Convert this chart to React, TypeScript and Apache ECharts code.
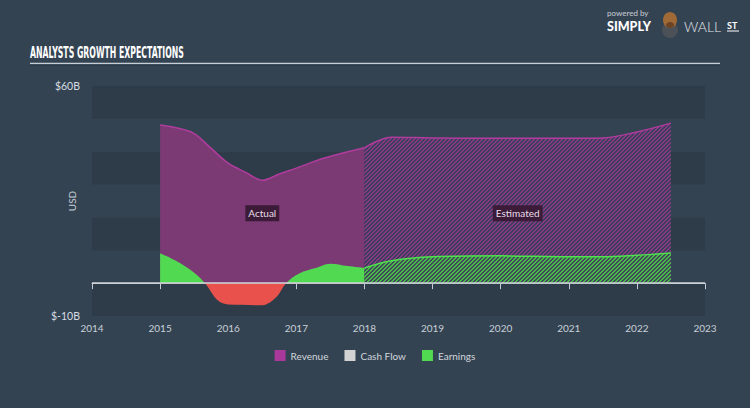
import React, { useEffect, useRef } from "react";
import * as echarts from "echarts";

// ---- data (USD billions) ----
const xTickMin = 2014;
const xTickMax = 2023;
const yMin = -10;
const yMax = 60;
const yStep = 10;

const revenueActual: [number, number][] = [
  [2015, 48.1], [2015.25, 47.2], [2015.5, 45.5], [2015.75, 41], [2016, 36.5],
  [2016.25, 33.8], [2016.5, 31.3], [2016.75, 33.2], [2017, 35], [2017.4, 38], [2018, 41.2],
];
const revenueEstimate: [number, number][] = [
  [2018, 41.2], [2018.4, 44.4], [2019, 44.2], [2020, 44.1], [2021, 44.1],
  [2021.5, 44.2], [2022, 46], [2022.5, 48.7],
];
const earningsActual: [number, number][] = [
  [2015, 9.1], [2015.25, 6.6], [2015.5, 3.2], [2015.66, 0], [2015.85, -5.3], [2016, -6.5],
  [2016.5, -6.7], [2016.7, -4.4], [2016.85, 0], [2017.05, 3], [2017.27, 4.5],
  [2017.5, 5.9], [2017.75, 5.2], [2018, 4.6],
];
const earningsEstimate: [number, number][] = [
  [2018, 4.6], [2018.4, 6.8], [2019, 8], [2020, 8.3], [2021, 8], [2021.5, 8],
  [2022, 8.5], [2022.5, 9.2],
];
const cashFlow: [number, number][] = [];

const legendNames = ["Revenue", "Cash Flow", "Earnings"];
const annotations = [
  { label: "Actual", x: 2016.5, y: 21.3 },
  { label: "Estimated", x: 2020.25, y: 21.3 },
];
const titleText = "ANALYSTS GROWTH EXPECTATIONS";

function makePattern(stripe: string, gap: string) {
  const n = 4;
  const c = document.createElement("canvas");
  c.width = n;
  c.height = n;
  const ctx = c.getContext("2d")!;
  ctx.fillStyle = gap;
  ctx.fillRect(0, 0, n, n);
  ctx.fillStyle = stripe;
  for (let x = 0; x < n; x++)
    for (let y = 0; y < n; y++) if ((x + y) % n < 2) ctx.fillRect(x, y, 1, 1);
  return { image: c, repeat: "repeat", imageWidth: n, imageHeight: n } as any;
}

export default function App() {
  const ref = useRef<HTMLDivElement>(null);
  useEffect(() => {
    if (!ref.current) return;
    const chart = echarts.init(ref.current, undefined, { renderer: "svg" });
    const bg = "#344352";
    const font = "Lato, 'Open Sans', sans-serif";

    const mc = document.createElement("canvas").getContext("2d")!;
    mc.font = "bold 15px 'DejaVu Sans Condensed'";
    const tw = mc.measureText(titleText).width || 230;
    const titleScale = 154 / tw;

    const revColor = "#b03c9e";
    const greenColor = "#52d952";

    chart.setOption({
      animation: false,
      backgroundColor: bg,
      textStyle: { fontFamily: font },
      grid: { left: 92, right: 45, top: 86, bottom: 92 },
      legend: {
        data: [
          { name: legendNames[0], itemStyle: { color: "#a8389a" } },
          { name: legendNames[1], itemStyle: { color: "#d2d2d2" } },
          { name: legendNames[2], itemStyle: { color: greenColor } },
        ],
        top: 345,
        left: "center",
        icon: "rect",
        itemWidth: 11,
        itemHeight: 11,
        itemGap: 16,
        selectedMode: false,
        textStyle: { color: "#d0d6dc", fontSize: 10, fontFamily: font },
      },
      visualMap: {
        type: "piecewise",
        show: false,
        seriesIndex: 2,
        dimension: 1,
        pieces: [
          { gte: -1000, lt: 0, color: "#e9524c" },
          { gte: 0, lte: 1000, color: greenColor },
        ],
      },
      xAxis: {
        type: "value",
        min: xTickMin,
        max: xTickMax,
        interval: 1,
        axisLine: { show: true, lineStyle: { color: "#c3cad2", width: 1 } },
        axisTick: { show: true, length: 6, lineStyle: { color: "#c3cad2" } },
        axisLabel: {
          color: "#c8d0d8",
          fontSize: 10,
          margin: 7,
          formatter: (v: number) => String(v),
        },
        splitLine: { show: false },
      },
      yAxis: {
        type: "value",
        min: yMin,
        max: yMax,
        interval: yStep,
        name: "USD",
        nameLocation: "middle",
        nameGap: 15,
        nameMoveOverlap: false,
        nameTextStyle: { color: "#c8d0d8", fontSize: 10 },
        axisLine: { show: false },
        axisTick: { show: false },
        axisLabel: {
          color: "#d6dce2",
          fontSize: 10.5,
          margin: 12,
          formatter: (v: number) =>
            v === yMax ? `$${yMax}B` : v === yMin ? `$${yMin}B` : "",
        },
        splitLine: { show: false },
        splitArea: { show: true, areaStyle: { color: ["#2e3b48", bg] } },
      },
      series: [
        {
          name: "Revenue",
          type: "line",
          data: revenueActual,
          smooth: 0.35,
          symbol: "none",
          z: 2,
          lineStyle: { color: revColor, width: 1.5 },
          itemStyle: { color: revColor },
          areaStyle: { color: "#7b3a74", opacity: 1 },
          markPoint: {
            symbol: "rect",
            symbolSize: 1,
            silent: true,
            itemStyle: { color: "rgba(0,0,0,0)" },
            label: {
              show: true,
              position: "inside",
              formatter: "{b}",
              color: "#e8dee8",
              fontSize: 10,
              backgroundColor: "#3b1b38",
              padding: [3, 3, 3, 3],
            },
            data: annotations.map((a) => ({ name: a.label, coord: [a.x, a.y] })),
          },
        },
        {
          name: "Revenue",
          type: "line",
          data: revenueEstimate,
          smooth: 0.35,
          symbol: "none",
          z: 2,
          lineStyle: { color: revColor, width: 1.5 },
          itemStyle: { color: revColor },
          areaStyle: { color: makePattern("#853a84", "#3c3d5b"), opacity: 1 },
        },
        {
          name: "Earnings",
          type: "line",
          data: earningsActual,
          smooth: 0.35,
          symbol: "none",
          z: 3,
          lineStyle: { width: 0 },
          areaStyle: { opacity: 1 },
        },
        {
          name: "Earnings",
          type: "line",
          data: earningsEstimate,
          smooth: 0.35,
          symbol: "none",
          z: 3,
          lineStyle: { color: "#4fe04f", width: 1.5 },
          itemStyle: { color: greenColor },
          areaStyle: { color: makePattern("#4cb84c", "#3d4a58"), opacity: 1 },
          markLine: {
            silent: true,
            symbol: "none",
            label: { show: false },
            lineStyle: { color: "#cfd4d9", width: 1.5, type: "solid" },
            data: [{ yAxis: 0 }],
          },
        },
        {
          name: "Cash Flow",
          type: "line",
          data: cashFlow,
          symbol: "none",
          itemStyle: { color: "#d2d2d2" },
        },
      ],
      graphic: [
        {
          type: "text",
          x: 30,
          y: 53,
          scaleX: titleScale,
          style: {
            text: titleText,
            fill: "#ffffff",
            font: "bold 15px 'DejaVu Sans Condensed'",
            verticalAlign: "middle",
          },
        },
        {
          type: "line",
          shape: { x1: 30, y1: 63.5, x2: 720, y2: 63.5 },
          style: { stroke: "#c6ced6", lineWidth: 1.5 },
        },
        {
          type: "line",
          shape: { x1: 30, y1: 65, x2: 720, y2: 65 },
          style: { stroke: "#253240", lineWidth: 1 },
        },
        {
          type: "text",
          x: 607,
          y: 13,
          style: {
            text: "powered by",
            fill: "#c9ced4",
            font: "8px Lato",
            verticalAlign: "middle",
          },
        },
        {
          type: "text",
          x: 607,
          y: 26.5,
          style: {
            text: "SIMPLY",
            fill: "#ffffff",
            font: "900 12.5px Lato",
            verticalAlign: "middle",
          },
        },
        {
          type: "circle",
          shape: { cx: 670, cy: 30, r: 8 },
          style: { fill: "#4c5158" },
        },
        {
          type: "ellipse",
          shape: { cx: 670, cy: 20, rx: 7, ry: 8 },
          style: { fill: "#a06a36" },
        },
        {
          type: "ellipse",
          shape: { cx: 670, cy: 25, rx: 4, ry: 3 },
          style: { fill: "#6a4424" },
        },
        {
          type: "text",
          x: 684,
          y: 26.5,
          style: {
            text: "WALL",
            fill: "#e4e8ec",
            font: "300 14px Lato",
            verticalAlign: "middle",
          },
        },
        {
          type: "text",
          x: 727,
          y: 25.5,
          style: {
            text: "ST",
            fill: "#ffffff",
            font: "bold 9px Lato",
            verticalAlign: "middle",
          },
        },
        {
          type: "line",
          shape: { x1: 727, y1: 31, x2: 739, y2: 31 },
          style: { stroke: "#ffffff", lineWidth: 1 },
        },
      ],
    });
    return () => chart.dispose();
  }, []);
  return (
    <div
      ref={ref}
      style={{ position: "fixed", left: 0, top: 0, width: 750, height: 408, background: "#344352" }}
    />
  );
}
